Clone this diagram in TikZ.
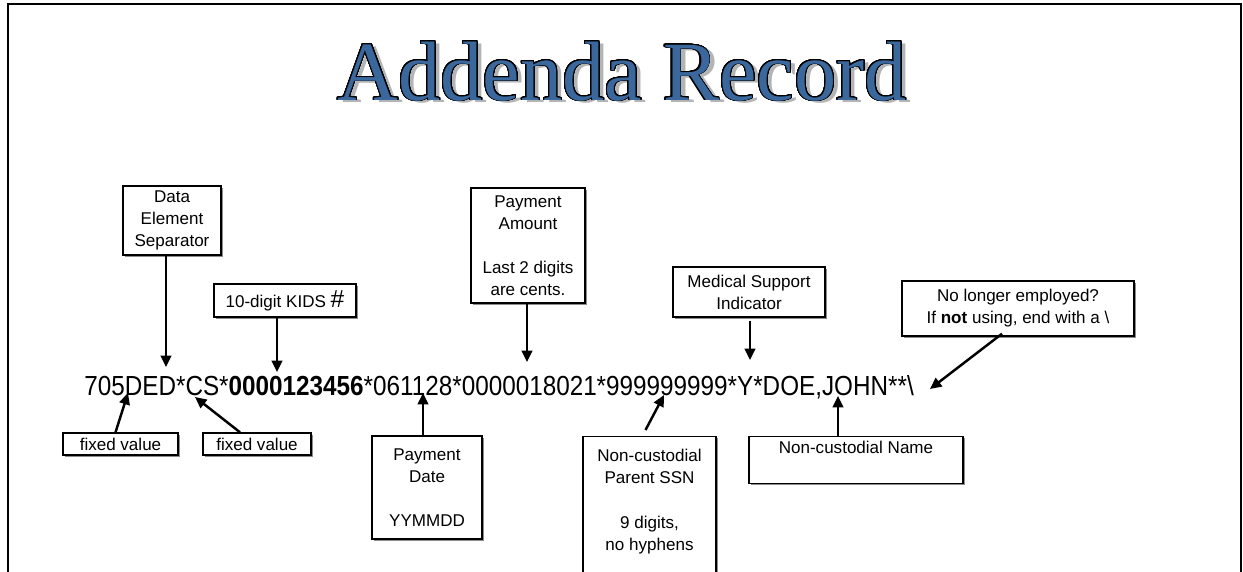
\documentclass[tikz,border=0pt]{standalone}
\usepackage{fontspec}
\setmainfont{Liberation Sans}
\newfontfamily\titlefont{Liberation Serif}
\newfontfamily\recordfont{Liberation Sans}[FakeStretch=0.88]
\usepackage{contour}
\usetikzlibrary{arrows.meta,calc,shadows}
\definecolor{ARBlue}{HTML}{3A679C}
\definecolor{ARShade}{HTML}{B4B4B4}
\contourlength{0.55pt}
\contournumber{32}
\newcommand\arlabel{\fontsize{9.7}{12.6}\selectfont}
\newcommand\arrecord{\recordfont\fontsize{15.7}{18}\selectfont}
\newcommand\artitle{\titlefont\fontsize{48}{48}\selectfont}
\tikzset{
  arbox/.style={
    rectangle,
    draw=black,
    line width=0.8pt,
    fill=white,
    align=center,
    inner sep=1pt,
    font=\arlabel,
    drop shadow={shadow xshift=0.9pt,shadow yshift=-0.9pt,fill=black!45,opacity=1}
  },
  artopbox/.style={arbox,inner ysep=0pt},
  ararrow/.style={-{Triangle[length=6.5pt,width=6pt]},line width=1.4pt},
  arframe/.style={draw=black,line width=1.2pt},
}

\begin{document}
\begin{tikzpicture}[x=0.02cm,y=0.02cm]
  \useasboundingbox (0,0) rectangle (1243,-571);
  \draw[arframe] (8,-590) -- (8,-4) -- (1241,-4) -- (1241,-590);

  % heading with shadow and outline
  \node[font=\artitle,text=ARShade,anchor=base] (titleshade) at (627,-103) {Addenda Record};
  \node[font=\artitle,text=ARBlue,anchor=base] (title) at (622,-100) {\contour{black}{Addenda Record}};

  % the record itself
  \node[font=\arrecord,anchor=base west,inner sep=0pt] (record) at (84,-395)
    {705DED*CS*\textbf{0000123456}*061128*0000018021*999999999*Y*DOE,JOHN**\textbackslash};

  % boxes above the record
  \node[arbox,minimum width=1.96cm,minimum height=1.38cm] (sep) at (172,-220.5)
    {Data\\Element\\Separator};
  \node[arbox,minimum width=2.84cm,minimum height=0.66cm] (kids) at (285,-300.5)
    {10-digit KIDS {\fontsize{14}{14}\selectfont\#}};
  \node[arbox,minimum width=2.28cm,minimum height=2.30cm] (amount) at (528,-245.5)
    {Payment\\Amount\\ \\Last 2 digits\\are cents.};
  \node[arbox,minimum width=3.04cm,minimum height=1.00cm] (medical) at (749,-292)
    {Medical Support\\Indicator};
  \node[arbox,minimum width=4.64cm,minimum height=1.10cm] (quit) at (1018,-308.5)
    {No longer employed?\\If \textbf{not} using, end with a \textbackslash};

  % boxes below the record
  \node[arbox,minimum width=2.30cm,minimum height=0.44cm] (fixA) at (120.5,-444) {fixed value};
  \node[arbox,minimum width=2.16cm,minimum height=0.44cm] (fixB) at (257,-444) {fixed value};
  \node[arbox,minimum width=2.20cm,minimum height=2.06cm] (date) at (427,-487.5)
    {Payment\\Date\\ \\YYMMDD};
  % last line is the baseline, so the box runs on below the page
  \node[artopbox,minimum width=2.66cm,text height=64.6pt,text depth=34pt,anchor=north] (ssn)
    at (649.5,-436) {Non-custodial\\Parent SSN\\ \\9 digits,\\no hyphens};
  \node[artopbox,minimum width=4.28cm,text height=9.6pt,text depth=17pt,anchor=north] (name)
    at (856,-436) {Non-custodial Name};

  % arrow tips on the record line
  \coordinate (tipSep) at (166,-367);
  \coordinate (tipKids) at (277,-372);
  \coordinate (tipAmount) at (527,-362);
  \coordinate (tipMed) at (750,-360);
  \coordinate (tipEnd) at (930,-389);
  \coordinate (tipFixA) at (128,-393);
  \coordinate (tipFixB) at (195,-397);
  \coordinate (tipDate) at (423,-393);
  \coordinate (tipSsn) at (664,-395);
  \coordinate (tipName) at (838,-396);

  \draw[ararrow] (tipSep |- sep.south) -- (tipSep);
  \draw[ararrow] (tipKids |- kids.south) -- (tipKids);
  \draw[ararrow] (tipAmount |- amount.south) -- (tipAmount);
  \draw[ararrow] ($(tipMed |- medical.south)+(0,-3)$) -- (tipMed);
  \draw[ararrow] ($(quit.south)+(-16,3)$) -- (tipEnd);
  \draw[ararrow] ($(fixA.north)+(-5,0)$) -- (tipFixA);
  \draw[ararrow] ($(fixB.north)+(-17,0)$) -- (tipFixB);
  \draw[ararrow] (tipDate |- date.north) -- (tipDate);
  \draw[ararrow] ($(ssn.north)+(-4,6)$) -- (tipSsn);
  \draw[ararrow] (tipName |- name.north) -- (tipName);
\end{tikzpicture}
\end{document}
